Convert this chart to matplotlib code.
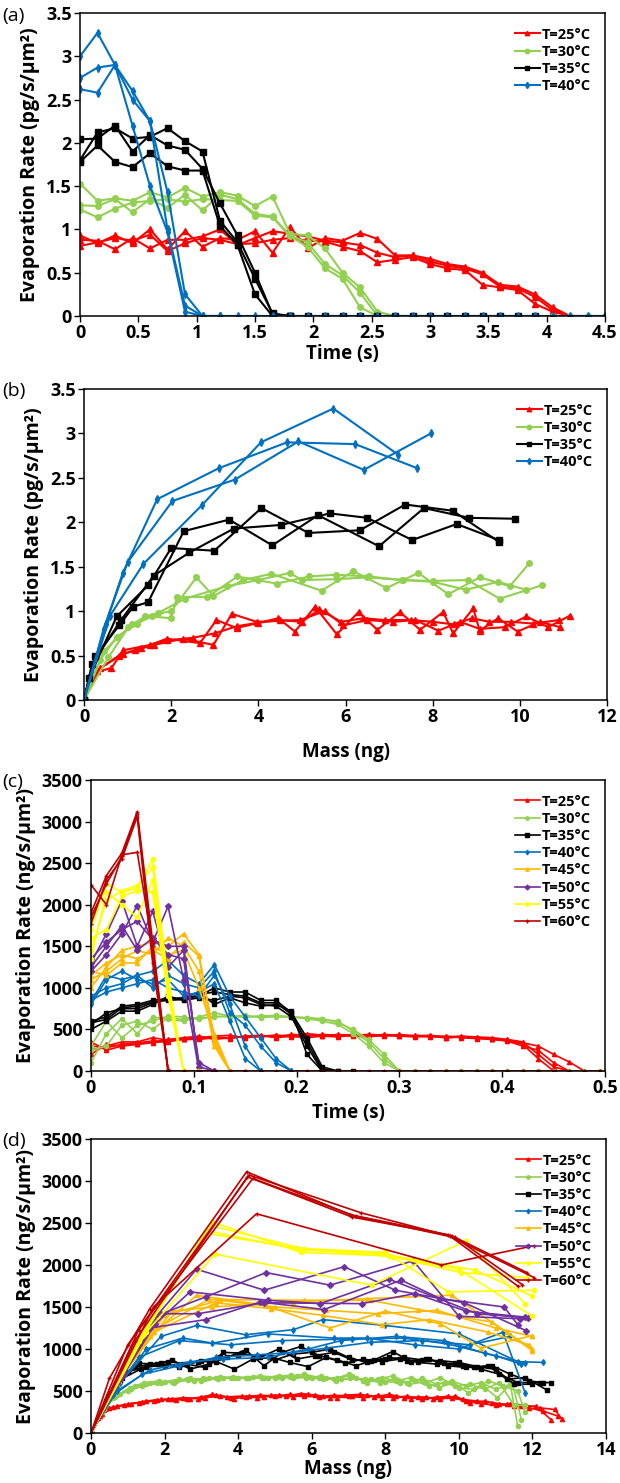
import matplotlib
matplotlib.use('Agg')
import matplotlib.pyplot as plt
from matplotlib.ticker import FuncFormatter

plt.rcParams['font.family'] = ['Open Sans', 'DejaVu Sans']
plt.rcParams['font.weight'] = 'bold'

# ---------------- panel (a): rate vs time, 25-40 C ----------------
t_a = [0.0, 0.15, 0.3, 0.45, 0.6, 0.75, 0.9, 1.05, 1.2, 1.35, 1.5, 1.65, 1.8, 1.95,
       2.1, 2.25, 2.4, 2.55, 2.7, 2.85, 3.0, 3.15, 3.3, 3.45, 3.6, 3.75, 3.9, 4.05,
       4.2, 4.35, 4.5]

a_25 = [
    [0.93, 0.84, 0.93, 0.84, 1.0, 0.77, 0.98, 0.8, 0.9, 0.88, 0.98, 0.73, 1.03, 0.78, 0.9,
     0.87, 0.96, 0.89, 0.7, 0.7, 0.66, 0.6, 0.57, 0.5, 0.36, 0.34, 0.25, 0.1, 0.0, 0.0, 0.0],
    [0.88, 0.87, 0.77, 0.9, 0.78, 0.88, 0.88, 0.92, 1.0, 0.82, 0.9, 0.98, 0.95, 0.92, 0.87,
     0.85, 0.82, 0.73, 0.68, 0.7, 0.63, 0.58, 0.55, 0.48, 0.34, 0.32, 0.22, 0.07, 0.0],
    [0.81, 0.85, 0.9, 0.87, 0.94, 0.75, 0.84, 0.9, 0.88, 0.83, 0.84, 0.88, 0.9, 0.87, 0.86,
     0.8, 0.75, 0.62, 0.65, 0.68, 0.6, 0.55, 0.53, 0.36, 0.33, 0.3, 0.14, 0.05, 0.0],
]
a_30 = [
    [1.53, 1.33, 1.36, 1.33, 1.43, 1.37, 1.48, 1.38, 1.43, 1.39, 1.27, 1.38, 0.95, 0.93, 0.78,
     0.5, 0.33, 0.05, 0, 0, 0, 0, 0, 0, 0, 0, 0, 0, 0, 0, 0],
    [1.28, 1.27, 1.35, 1.2, 1.35, 1.25, 1.4, 1.22, 1.4, 1.35, 1.18, 1.15, 0.93, 0.85, 0.6,
     0.47, 0.27, 0.0, 0.0],
    [1.23, 1.14, 1.24, 1.31, 1.33, 1.35, 1.32, 1.35, 1.34, 1.33, 1.16, 1.14, 0.92, 0.8, 0.55,
     0.43, 0.1, 0.0, 0.0],
]
a_35 = [
    [2.04, 2.05, 2.2, 1.9, 2.09, 1.97, 1.92, 1.7, 1.3, 0.93, 0.5, 0.02, 0, 0, 0, 0, 0, 0, 0,
     0, 0, 0, 0, 0, 0, 0, 0],
    [1.8, 2.12, 2.17, 2.05, 2.07, 2.17, 2.02, 1.9, 1.1, 0.85, 0.43, 0.03, 0.0],
    [1.78, 1.97, 1.78, 1.72, 1.88, 1.73, 1.68, 1.68, 1.04, 0.82, 0.25, 0.0, 0.0],
]
a_40 = [
    [3.0, 3.27, 2.9, 2.6, 2.25, 1.43, 0.25, 0, 0, 0, 0, 0, 0, 0, 0, 0, 0, 0, 0, 0, 0, 0, 0,
     0, 0, 0, 0, 0, 0, 0, 0],
    [2.75, 2.87, 2.9, 2.5, 2.25, 1.0, 0.12, 0.0, 0.0],
    [2.62, 2.58, 2.9, 2.2, 1.5, 0.97, 0.05, 0.0, 0.0],
]

# ---------------- panel (b): rate vs mass, (mass ng, rate) ----------------
b_25 = [
    [(0, 0), (0.15, 0.30), (0.63, 0.36), (0.9, 0.56), (1.52, 0.62), (1.9, 0.69), (2.66, 0.64),
     (3.04, 0.90), (3.5, 0.81), (4.46, 0.92), (4.84, 0.77), (5.3, 1.05), (5.8, 0.74),
     (6.3, 0.99), (6.73, 0.79), (7.25, 0.99), (7.71, 0.79), (8.24, 0.99), (8.47, 0.75),
     (8.93, 1.03), (9.08, 0.78), (9.5, 0.92), (9.95, 0.77), (10.46, 0.88), (10.92, 0.82)],
    [(0, 0), (0.37, 0.36), (0.9, 0.52), (1.17, 0.56), (1.6, 0.62), (2.28, 0.69), (2.97, 0.62),
     (3.39, 0.97), (3.96, 0.88), (4.95, 0.90), (5.53, 1.0), (5.95, 0.84), (6.5, 0.9),
     (7.1, 0.88), (7.6, 0.9), (8.13, 0.78), (8.63, 0.88), (9.08, 0.8), (9.65, 0.82),
     (10.15, 0.94), (10.65, 0.82), (11.15, 0.95)],
    [(0, 0), (0.3, 0.33), (0.8, 0.5), (1.3, 0.58), (1.9, 0.67), (2.5, 0.7), (3.0, 0.75),
     (3.5, 0.83), (4.0, 0.87), (4.5, 0.9), (5.0, 0.88), (5.4, 1.02), (5.9, 0.88), (6.4, 0.92),
     (6.9, 0.9), (7.5, 0.9), (8.0, 0.88), (8.5, 0.85), (8.9, 0.92), (9.3, 0.88), (9.8, 0.88),
     (10.3, 0.86), (10.9, 0.9)],
]
b_30 = [
    [(0, 0), (0.37, 0.45), (0.75, 0.71), (1.21, 0.86), (1.55, 0.94), (1.99, 0.92), (2.14, 1.16),
     (2.83, 1.16), (3.52, 1.39), (4.42, 1.31), (5.17, 1.39), (5.78, 1.41), (6.54, 1.39),
     (7.31, 1.35), (8.01, 1.33), (8.76, 1.24), (9.5, 1.33), (10.15, 1.24)],
    [(0, 0), (0.56, 0.48), (1.02, 0.82), (1.4, 0.94), (2.0, 1.0), (2.58, 1.38), (2.97, 1.17),
     (3.65, 1.35), (4.3, 1.42), (5.45, 1.23), (6.18, 1.45), (6.94, 1.26), (7.67, 1.43),
     (8.36, 1.19), (9.08, 1.38), (9.77, 1.28), (10.22, 1.54)],
    [(0, 0), (0.45, 0.55), (1.1, 0.85), (1.7, 0.98), (2.32, 1.14), (3.27, 1.28), (4.0, 1.35),
     (4.72, 1.43), (5.0, 1.35), (5.8, 1.36), (6.5, 1.38), (7.3, 1.35), (8.0, 1.34),
     (8.8, 1.35), (9.54, 1.14), (10.5, 1.29)],
]
b_35 = [
    [(0, 0), (0.12, 0.25), (0.75, 0.94), (1.47, 1.29), (2.0, 1.71), (2.99, 1.68), (4.07, 2.16),
     (5.15, 1.88), (6.33, 1.91), (7.37, 2.20), (8.46, 2.13), (9.52, 1.78)],
    [(0, 0), (0.25, 0.49), (0.81, 0.84), (1.13, 1.05), (1.47, 1.10), (2.29, 1.90), (3.33, 2.03),
     (4.32, 1.74), (5.37, 2.08), (6.77, 1.73), (7.8, 2.16), (8.84, 2.05), (9.88, 2.04)],
    [(0, 0), (0.18, 0.40), (0.85, 0.90), (1.6, 1.40), (2.42, 1.66), (3.44, 1.93), (4.52, 1.97),
     (5.64, 2.10), (6.5, 2.05), (7.53, 1.80), (8.55, 1.98), (9.52, 1.80)],
]
b_40 = [
    [(0, 0), (0.5, 0.86), (0.89, 1.43), (1.68, 2.26), (3.1, 2.61), (4.66, 2.90), (6.22, 2.88),
     (7.64, 2.61)],
    [(0, 0), (0.45, 0.80), (1.0, 1.55), (2.03, 2.24), (3.46, 2.48), (4.92, 2.91), (6.42, 2.59),
     (7.96, 3.0)],
    [(0, 0), (0.6, 0.95), (1.36, 1.53), (2.7, 2.19), (4.06, 2.90), (5.72, 3.28), (7.21, 2.76)],
]

# ---------------- panel (c): rate vs time, 25-60 C ----------------
t_c = [0.0, 0.015, 0.03, 0.045, 0.06, 0.075, 0.09, 0.105, 0.12, 0.135, 0.15, 0.165, 0.18,
       0.195, 0.21, 0.225, 0.24, 0.255, 0.27, 0.285, 0.3, 0.315, 0.33, 0.345, 0.36, 0.375,
       0.39, 0.405, 0.42, 0.435, 0.45, 0.465, 0.48, 0.495]

c_25 = [
    [200, 320, 300, 330, 350, 380, 400, 420, 380, 400, 420, 410, 430, 420, 400, 420, 440,
     430, 420, 440, 430, 420, 430, 410, 420, 410, 400, 380, 350, 200, 50, 0, 0, 0],
    [250, 300, 350, 350, 400, 370, 380, 400, 420, 430, 400, 420, 410, 440, 430, 420, 410,
     430, 440, 430, 420, 430, 420, 400, 410, 400, 380, 360, 300, 250, 100, 0],
    [350, 250, 300, 320, 340, 360, 380, 380, 400, 390, 420, 430, 400, 420, 450, 430, 420,
     440, 430, 420, 440, 420, 410, 420, 400, 390, 380, 370, 320, 150, 0],
    [300, 280, 320, 340, 360, 350, 390, 400, 410, 400, 410, 420, 430, 410, 420, 440, 430,
     420, 410, 430, 420, 410, 420, 400, 410, 400, 390, 370, 340, 300, 200, 110, 0],
]
c_30 = [
    [100, 450, 630, 450, 650, 620, 600, 650, 700, 660, 650, 660, 670, 650, 640, 620, 600, 480,
     350, 150, 0, 0, 0, 0, 0, 0, 0, 0, 0, 0, 0, 0, 0, 0],
    [250, 300, 550, 600, 500, 640, 620, 640, 650, 660, 650, 660, 650, 650, 640, 630, 580, 500,
     380, 200, 0],
    [300, 600, 400, 550, 600, 660, 650, 620, 660, 650, 670, 640, 660, 650, 630, 600, 560, 450,
     300, 100, 0],
]
c_35 = [
    [600, 650, 780, 800, 850, 870, 870, 900, 1000, 950, 950, 850, 850, 700, 400, 50, 0, 0],
    [500, 600, 720, 720, 800, 900, 850, 880, 850, 900, 880, 800, 780, 650, 300, 0],
    [560, 700, 750, 750, 820, 870, 880, 950, 800, 880, 820, 780, 800, 720, 200, 0],
    [580, 620, 760, 780, 830, 850, 860, 920, 950, 920, 900, 820, 820, 680, 350, 20, 0],
]
c_40 = [
    [830, 1150, 1100, 1150, 1200, 1330, 1150, 1050, 1280, 900, 650, 400, 150, 0],
    [850, 950, 1000, 1050, 1100, 1000, 950, 900, 1150, 800, 300, 0],
    [800, 1100, 1200, 1100, 1050, 1100, 900, 950, 1050, 600, 150, 0],
    [900, 1000, 1050, 1150, 1000, 1150, 1050, 1000, 1200, 700, 550, 300, 100, 0],
]
c_45 = [
    [1000, 1250, 1450, 1500, 1550, 1500, 1650, 1400, 400, 0, 0],
    [1150, 1300, 1400, 1350, 1450, 1350, 1550, 1380, 350, 0],
    [1200, 1150, 1300, 1300, 1500, 1400, 1450, 1000, 450, 0],
    [1100, 1200, 1350, 1450, 1400, 1600, 1500, 1200, 300, 0],
]
c_50 = [
    [1300, 1650, 2050, 1500, 1920, 1250, 1450, 50, 0],
    [1200, 1400, 1650, 1990, 1550, 1980, 1100, 0],
    [1250, 1500, 1750, 1450, 1600, 1400, 1350, 100, 0],
    [1350, 1550, 1700, 1800, 1580, 1500, 1500, 0],
]
c_55 = [
    [1700, 2250, 2150, 2200, 2550, 1100, 0, 0],
    [1450, 2050, 2170, 2230, 2450, 1000, 0],
    [1600, 1700, 2100, 2170, 2150, 900, 0],
    [1350, 2150, 2000, 1850, 2300, 950, 0],
]
c_60 = [
    [2240, 2000, 2600, 2630, 1500, 0, 0, 0, 0, 0, 0, 0, 0, 0, 0, 0, 0, 0, 0, 0, 0, 0, 0, 0,
     0, 0, 0, 0, 0, 0, 0, 0, 0, 0],
    [1900, 2350, 2620, 3120, 1550, 0],
    [1770, 2300, 2550, 3060, 1300, 0],
    [1850, 2250, 2580, 3090, 1400, 20],
]

# ---------------- panel (d): rate vs mass, (mass ng, rate) ----------------
d_25 = [
    [(0, 0), (0.2, 180), (0.5, 300), (0.9, 330), (1.3, 360), (1.7, 380), (2.1, 400), (2.5, 420),
     (2.9, 410), (3.3, 460), (3.7, 430), (4.1, 440), (4.5, 420), (4.9, 450), (5.3, 440),
     (5.7, 470), (6.1, 450), (6.5, 420), (6.9, 450), (7.3, 460), (7.7, 430), (8.1, 460),
     (8.5, 420), (8.9, 430), (9.3, 410), (9.7, 440), (10.1, 400), (10.5, 380), (10.9, 360),
     (11.3, 340), (11.7, 320), (12.1, 320), (12.5, 160)],
    [(0, 0), (0.25, 200), (0.6, 310), (1.0, 340), (1.4, 370), (1.8, 390), (2.2, 410),
     (2.6, 400), (3.0, 430), (3.4, 450), (3.8, 420), (4.2, 430), (4.6, 450), (5.0, 440),
     (5.4, 460), (5.8, 440), (6.2, 430), (6.6, 450), (7.0, 440), (7.4, 420), (7.8, 450),
     (8.2, 420), (8.6, 440), (9.0, 400), (9.4, 430), (9.8, 420), (10.2, 380), (10.6, 350),
     (11.0, 330), (11.4, 350), (11.8, 330), (12.2, 300), (12.6, 280), (12.8, 170)],
    [(0, 0), (0.3, 230), (0.7, 320), (1.1, 350), (1.5, 380), (1.9, 400), (2.3, 390),
     (2.7, 410), (3.1, 420), (3.5, 440), (3.9, 410), (4.3, 440), (4.7, 430), (5.1, 450),
     (5.5, 430), (5.9, 460), (6.3, 440), (6.7, 420), (7.1, 440), (7.5, 450), (7.9, 420),
     (8.3, 440), (8.7, 410), (9.1, 430), (9.5, 400), (9.9, 440), (10.3, 360), (10.7, 380),
     (11.1, 340), (11.5, 320), (11.9, 300), (12.3, 260), (12.7, 200)],
]
d_30 = [
    [(0, 0), (0.3, 250), (0.6, 420), (1.0, 500), (1.4, 560), (1.8, 590), (2.2, 610), (2.6, 640),
     (3.0, 620), (3.4, 660), (3.8, 650), (4.2, 660), (4.6, 680), (5.0, 660), (5.4, 670),
     (5.8, 700), (6.2, 660), (6.6, 640), (7.0, 700), (7.4, 620), (7.8, 640), (8.2, 680),
     (8.6, 600), (9.0, 650), (9.4, 580), (9.8, 620), (10.2, 560), (10.6, 600), (11.0, 520),
     (11.4, 580), (11.6, 80)],
    [(0, 0), (0.35, 280), (0.7, 450), (1.1, 520), (1.5, 580), (1.9, 600), (2.3, 620),
     (2.7, 650), (3.1, 640), (3.5, 670), (3.9, 660), (4.3, 650), (4.7, 660), (5.1, 680),
     (5.5, 650), (5.9, 670), (6.3, 640), (6.7, 660), (7.1, 680), (7.5, 600), (7.9, 660),
     (8.3, 620), (8.7, 660), (9.1, 600), (9.5, 660), (9.9, 560), (10.3, 580), (10.7, 520),
     (11.1, 600), (11.5, 330), (11.8, 330)],
    [(0, 0), (0.3, 300), (0.65, 430), (1.05, 540), (1.45, 600), (1.85, 620), (2.25, 600),
     (2.65, 630), (3.05, 650), (3.45, 640), (3.85, 670), (4.25, 660), (4.65, 650), (5.05, 670),
     (5.45, 690), (5.85, 650), (6.25, 680), (6.65, 620), (7.05, 650), (7.45, 640), (7.85, 600),
     (8.25, 640), (8.65, 580), (9.05, 610), (9.45, 540), (9.85, 600), (10.25, 480),
     (10.65, 560), (11.05, 420), (11.45, 600), (11.7, 160)],
    [(0, 0), (0.4, 330), (0.8, 470), (1.2, 560), (1.6, 600), (2.0, 610), (2.4, 640), (2.8, 620),
     (3.2, 650), (3.6, 660), (4.0, 650), (4.4, 670), (4.8, 660), (5.2, 650), (5.6, 680),
     (6.0, 650), (6.4, 660), (6.8, 640), (7.2, 650), (7.6, 640), (8.0, 610), (8.4, 600),
     (8.8, 620), (9.2, 560), (9.6, 600), (10.0, 540), (10.4, 520), (10.8, 620), (11.2, 560),
     (11.6, 500), (11.8, 250)],
]
d_35 = [
    [(0, 0), (0.4, 380), (0.8, 620), (1.2, 780), (1.6, 820), (2.1, 850), (2.6, 820), (3.1, 780),
     (3.6, 960), (4.1, 950), (4.6, 900), (5.1, 1000), (5.6, 880), (6.1, 920), (6.6, 960),
     (7.1, 870), (7.6, 860), (8.1, 900), (8.6, 860), (9.1, 880), (9.6, 830), (10.1, 800),
     (10.6, 760), (11.1, 700), (11.6, 600), (12.2, 600), (12.5, 600)],
    [(0, 0), (0.5, 450), (0.9, 700), (1.3, 830), (1.8, 820), (2.2, 870), (2.7, 760), (3.2, 820),
     (3.7, 900), (4.2, 990), (4.7, 800), (5.2, 960), (5.7, 1030), (6.2, 920), (6.7, 870),
     (7.2, 800), (7.7, 870), (8.2, 970), (8.7, 850), (9.2, 880), (9.7, 800), (10.2, 780),
     (10.8, 800), (11.3, 640), (11.8, 660), (12.4, 510)],
    [(0, 0), (0.45, 420), (0.85, 650), (1.35, 760), (1.9, 830), (2.4, 780), (2.9, 850),
     (3.4, 850), (3.9, 760), (4.4, 880), (4.9, 900), (5.4, 840), (5.9, 790), (6.4, 900),
     (6.9, 830), (7.4, 880), (7.9, 850), (8.4, 880), (8.9, 840), (9.4, 820), (9.9, 830),
     (10.4, 780), (10.9, 800), (11.4, 700), (11.9, 620), (12.3, 600)],
    [(0, 0), (0.55, 480), (1.0, 730), (1.5, 790), (2.0, 800), (2.5, 820), (3.0, 860),
     (3.5, 900), (4.0, 930), (4.5, 920), (5.0, 870), (5.5, 940), (6.0, 960), (6.5, 1000),
     (7.0, 900), (7.5, 840), (8.0, 880), (8.5, 900), (9.0, 870), (9.5, 860), (10.0, 840),
     (10.5, 790), (11.0, 760), (11.5, 580), (12.0, 580)],
]
d_40 = [
    [(0, 0), (0.7, 550), (1.9, 1150), (2.87, 1280), (4.2, 1170), (5.5, 1230), (6.3, 1350),
     (8.0, 1280), (10.0, 1180), (11.6, 850), (12.3, 840)],
    [(0, 0), (0.8, 600), (1.5, 1000), (2.5, 1130), (3.3, 1070), (4.8, 1180), (6.6, 1130),
     (7.5, 1130), (8.8, 1050), (10.0, 1000), (11.2, 1200), (11.8, 480)],
    [(0, 0), (0.6, 480), (1.3, 900), (2.4, 1100), (3.8, 1050), (5.2, 1100), (7.1, 1120),
     (8.5, 1130), (9.7, 1060), (11.0, 920), (11.7, 820)],
    [(0, 0), (0.6, 450), (1.4, 700), (2.4, 800), (3.4, 900), (4.5, 930), (5.5, 960),
     (6.4, 1010), (7.6, 1080), (9.0, 1100), (10.3, 1050), (11.4, 1150)],
    [(0, 0), (0.7, 500), (1.6, 750), (2.7, 850), (3.6, 880), (4.8, 900), (5.9, 1000),
     (6.8, 1100), (8.3, 1150), (9.6, 1100), (10.7, 950), (11.8, 830)],
]
d_45 = [
    [(0, 0), (0.7, 600), (1.6, 1150), (2.87, 1640), (4.75, 1520), (6.5, 1250), (8.0, 1450),
     (9.5, 1300), (10.6, 1010), (12.0, 1160)],
    [(0, 0), (0.8, 650), (1.8, 1250), (3.2, 1590), (5.8, 1580), (7.6, 1580), (8.9, 1470),
     (10.9, 1320), (12.0, 980)],
    [(0, 0), (0.75, 620), (1.7, 1200), (3.4, 1550), (4.9, 1480), (6.3, 1400), (7.9, 1290),
     (9.2, 1350), (10.8, 1200), (11.9, 1050)],
    [(0, 0), (0.85, 700), (2.0, 1400), (3.5, 1580), (5.0, 1500), (6.4, 1460), (7.8, 1420),
     (9.4, 1460), (11.0, 1250), (12.0, 1150)],
    [(0, 0), (0.9, 720), (2.2, 1450), (3.3, 1500), (5.5, 1560), (7.5, 1600), (9.8, 1640),
     (11.3, 1200), (12.0, 1000)],
]
d_50 = [
    [(0, 0), (0.8, 650), (1.7, 1350), (2.87, 1950), (4.71, 1700), (6.88, 1980), (8.27, 1700),
     (10.15, 1550), (11.82, 1220)],
    [(0, 0), (0.9, 700), (1.8, 1400), (3.12, 1620), (4.76, 1910), (6.5, 1760), (8.76, 2050),
     (10.0, 1390), (11.66, 1360)],
    [(0, 0), (0.8, 640), (1.75, 1300), (2.69, 1680), (4.8, 1580), (6.23, 1540), (8.11, 1830),
     (10.5, 1420), (11.87, 1370)],
    [(0, 0), (0.7, 600), (1.6, 1250), (3.12, 1350), (4.6, 1560), (6.34, 1470), (8.43, 1820),
     (9.5, 1600), (11.23, 1500), (11.6, 1290)],
    [(0, 0), (0.85, 680), (1.9, 1420), (2.9, 1420), (4.7, 1550), (7.36, 1540), (8.81, 1660),
     (10.2, 1450), (11.8, 1380)],
]
d_55 = [
    [(0, 0), (1.5, 1250), (3.14, 2410), (5.68, 2180), (7.81, 2140), (10.43, 1940), (12.0, 1630)],
    [(0, 0), (1.4, 1150), (3.3, 2510), (5.7, 2150), (8.1, 2110), (10.05, 1910), (11.86, 1850)],
    [(0, 0), (1.5, 1200), (3.37, 2130), (7.63, 1760), (10.2, 2290), (11.8, 1540)],
    [(0, 0), (1.3, 1100), (3.1, 2380), (5.6, 2200), (8.0, 2150), (9.71, 1680), (12.03, 1700)],
    [(0, 0), (1.45, 1180), (3.25, 2470), (5.8, 2190), (8.2, 2100), (10.0, 1950), (12.0, 1390)],
]
d_60 = [
    [(0, 0), (0.5, 650), (1.6, 1480), (4.23, 3110), (7.04, 2600), (9.71, 2360), (11.6, 1750)],
    [(0, 0), (1.0, 1050), (4.3, 3070), (7.35, 2620), (9.89, 2330), (11.73, 1765)],
    [(0, 0), (1.3, 1230), (4.4, 3030), (7.2, 2580), (9.75, 2340), (12.05, 1850)],
    [(0, 0), (1.7, 1500), (4.5, 2610), (9.52, 2000), (12.05, 2230)],
    [(0, 0), (1.2, 1100), (4.25, 3050), (7.1, 2570), (9.8, 2350), (11.85, 1910)],
]

temps = [25, 30, 35, 40, 45, 50, 55, 60]
colors = ['#FF0000', '#92D050', '#000000', '#0070C0', '#FFB900', '#7030A0', '#FFFF00', '#C00000']
markers = ['^', 'o', 's', 'd', '^', 'D', 'o', '+']


def draw_time(ax, t, sets, ms, lw):
    for k, runs in enumerate(sets):
        for i, r in enumerate(runs):
            ax.plot(t[:len(r)], r, color=colors[k], marker=markers[k], ms=ms, lw=lw,
                    mew=1.0, label='T=%d°C' % temps[k] if i == 0 else None)


def draw_mass(ax, sets, ms, lw):
    for k, runs in enumerate(sets):
        for i, r in enumerate(runs):
            m = [p[0] for p in r]
            v = [p[1] for p in r]
            ax.plot(m, v, color=colors[k], marker=markers[k], ms=ms, lw=lw,
                    mew=1.0, label='T=%d°C' % temps[k] if i == 0 else None)


def style(ax, xmax, xstep, ymax, ystep, xlabel, ylabel, xlabelpad):
    ax.set_xlim(0, xmax)
    ax.set_ylim(0, ymax)
    nx = int(round(xmax / xstep))
    ny = int(round(ymax / ystep))
    ax.set_xticks([i * xstep for i in range(nx + 1)])
    ax.set_yticks([i * ystep for i in range(ny + 1)])
    fmt = FuncFormatter(lambda v, p: ('%g' % round(v, 3)))
    ax.xaxis.set_major_formatter(fmt)
    ax.yaxis.set_major_formatter(fmt)
    ax.tick_params(direction='out', length=4, width=1, labelsize=13, pad=2)
    ax.tick_params(axis='x', pad=2)
    for lbl in ax.get_xticklabels() + ax.get_yticklabels():
        lbl.set_fontweight('bold')
    for s in ax.spines.values():
        s.set_linewidth(1.1)
    ax.set_xlabel(xlabel, fontsize=13.5, fontweight='bold', labelpad=xlabelpad)
    ax.set_ylabel(ylabel, fontsize=14, fontweight='bold', labelpad=4)
    leg = ax.legend(loc='upper right', frameon=False, fontsize=10.5, handlelength=1.7,
                    handletextpad=0.1, labelspacing=0.22, borderaxespad=0.6, markerscale=0.8)
    for txt in leg.get_texts():
        txt.set_fontweight('bold')


fig = plt.figure(figsize=(6.2, 14.83), dpi=100)
H = 1483.0
W = 620.0


def rect(l, r, t, b):
    return [l / W, 1 - b / H, (r - l) / W, (b - t) / H]


ax_a = fig.add_axes(rect(80, 605, 13, 316))
draw_time(ax_a, t_a, [a_25, a_30, a_35, a_40], 4, 1.5)
style(ax_a, 4.5, 0.5, 3.5, 0.5, 'Time (s)', 'Evaporation Rate (pg/s/µm²)', 1)

ax_b = fig.add_axes(rect(84, 607, 389, 700))
draw_mass(ax_b, [b_25, b_30, b_35, b_40], 4, 1.5)
style(ax_b, 12, 2, 3.5, 0.5, 'Mass (ng)', 'Evaporation Rate (pg/s/µm²)', 11)

ax_c = fig.add_axes(rect(91, 605, 780, 1071))
draw_time(ax_c, t_c, [c_25, c_30, c_35, c_40, c_45, c_50, c_55, c_60], 3, 1.2)
style(ax_c, 0.5, 0.1, 3500, 500, 'Time (s)', 'Evaporation Rate (ng/s/µm²)', 4)

ax_d = fig.add_axes(rect(91, 606, 1139, 1433))
draw_mass(ax_d, [d_25, d_30, d_35, d_40, d_45, d_50, d_55, d_60], 3, 1.2)
style(ax_d, 14, 2, 3500, 500, 'Mass (ng)', 'Evaporation Rate (ng/s/µm²)', 0)

for lab, y in [('(a)', 16), ('(b)', 391), ('(c)', 782), ('(d)', 1141)]:
    fig.text(2 / W, 1 - y / H, lab, fontsize=14, fontweight='normal', va='center', ha='left')

fig.savefig('out.png', dpi=100)
